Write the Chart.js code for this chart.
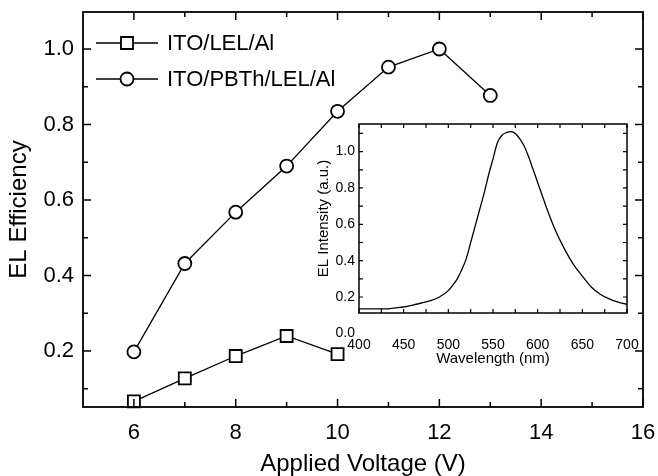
<!DOCTYPE html>
<html>
<head>
<meta charset="utf-8">
<script src="https://cdn.jsdelivr.net/npm/chart.js@4.4.0/dist/chart.umd.min.js"></script>
<style>
  html, body { margin: 0; padding: 0; background: #fff; }
  #wrap  { position: relative; width: 658px; height: 476px; }
  #main  { position: absolute; left: 0; top: 0; }
  #inset { position: absolute; left: 300px; top: 110px; }
</style>
</head>
<body>
<div id="wrap">
  <canvas id="main" width="658" height="476"></canvas>
  <canvas id="inset" width="350" height="260"></canvas>
</div>
<script>
// main plot: EL efficiency vs applied voltage
const voltage   = [6, 7, 8, 9, 10, 11, 12, 13];
const effLel    = [0.067, 0.128, 0.187, 0.240, 0.192];
const effPbth   = [0.198, 0.432, 0.568, 0.690, 0.835, 0.952, 1.000, 0.877];
const seriesNames = ['ITO/LEL/Al', 'ITO/PBTh/LEL/Al'];

const xMajor = [6, 8, 10, 12, 14, 16];
const xMinor = [7, 9, 11, 13, 15];
const yMajor = [0.2, 0.4, 0.6, 0.8, 1.0];
const yMinor = [0.1, 0.3, 0.5, 0.7, 0.9];

// inset: EL spectrum
const wavelength = [400, 410, 420, 430, 440, 450, 460, 470, 480, 490,
                    500, 505, 510, 515, 520, 525, 530, 535, 540, 545,
                    550, 555, 560, 565, 570, 575, 580, 585, 590, 595,
                    600, 605, 610, 615, 620, 630, 640, 650, 660, 670,
                    680, 690, 700];
const intensity  = [0.135, 0.135, 0.135, 0.135, 0.140, 0.145, 0.155, 0.167, 0.180, 0.200,
                    0.235, 0.265, 0.300, 0.350, 0.410, 0.500, 0.590, 0.680, 0.770, 0.870,
                    0.960, 1.050, 1.090, 1.105, 1.110, 1.100, 1.070, 1.030, 0.970, 0.900,
                    0.830, 0.760, 0.690, 0.625, 0.565, 0.465, 0.380, 0.315, 0.255, 0.215,
                    0.190, 0.172, 0.160];

const wlMajor = [400, 450, 500, 550, 600, 650, 700];
const wlMinor = [425, 475, 525, 575, 625, 675];
const inMajor = [0.0, 0.2, 0.4, 0.6, 0.8, 1.0];
const inMinor = [0.1, 0.3, 0.5, 0.7, 0.9, 1.1];

const FONT = "'Liberation Sans', Arial, sans-serif";

function noPad(s) {
  s.paddingLeft = 0; s.paddingRight = 0; s.paddingTop = 0; s.paddingBottom = 0;
}

function framePlugin(cfg) {
  return {
    id: 'frame',
    afterDraw(chart) {
      const { ctx, chartArea: a, scales: { x, y } } = chart;
      ctx.save();
      ctx.strokeStyle = '#000';
      ctx.lineWidth = cfg.lw;
      ctx.strokeRect(a.left, a.top, a.right - a.left, a.bottom - a.top);
      ctx.lineWidth = cfg.tw;
      ctx.beginPath();
      const xt = (vals, len) => vals.forEach(v => {
        const p = x.getPixelForValue(v);
        if (p < a.left - 0.5 || p > a.right + 0.5) return;
        ctx.moveTo(p, a.bottom); ctx.lineTo(p, a.bottom - len);
        ctx.moveTo(p, a.top);    ctx.lineTo(p, a.top + len);
      });
      const yt = (vals, len) => vals.forEach(v => {
        const p = y.getPixelForValue(v);
        if (p < a.top - 0.5 || p > a.bottom + 0.5) return;
        ctx.moveTo(a.left, p);  ctx.lineTo(a.left + len, p);
        ctx.moveTo(a.right, p); ctx.lineTo(a.right - len, p);
      });
      xt(cfg.xMajor, cfg.major); xt(cfg.xMinor, cfg.minor);
      yt(cfg.yMajor, cfg.major); yt(cfg.yMinor, cfg.minor);
      ctx.stroke();
      ctx.restore();
    }
  };
}

const legendPlugin = {
  id: 'innerLegend',
  afterDatasetsDraw(chart) {
    const { ctx } = chart;
    const rows = [{ y: 43, style: 'rect', r: 8.5 }, { y: 79, style: 'circle', r: 6.5 }];
    ctx.save();
    rows.forEach((row, i) => {
      ctx.strokeStyle = '#000';
      ctx.lineWidth = 1.3;
      ctx.beginPath();
      ctx.moveTo(96, row.y); ctx.lineTo(158, row.y);
      ctx.stroke();
      ctx.fillStyle = '#fff';
      ctx.lineWidth = 1.8;
      ctx.beginPath();
      if (row.style === 'rect') {
        const h = row.r * Math.SQRT1_2;
        ctx.rect(127 - h, row.y - h, 2 * h, 2 * h);
      } else {
        ctx.arc(127, row.y, row.r, 0, Math.PI * 2);
      }
      ctx.fill(); ctx.stroke();
      ctx.fillStyle = '#000';
      ctx.font = '22px ' + FONT;
      ctx.textBaseline = 'middle';
      ctx.fillText(seriesNames[i], 167, row.y + 1);
    });
    ctx.restore();
  }
};

new Chart(document.getElementById('main'), {
  type: 'line',
  data: {
    datasets: [
      {
        label: seriesNames[0],
        data: effLel.map((v, i) => ({ x: voltage[i], y: v })),
        borderColor: '#000', borderWidth: 1.3,
        pointStyle: 'rect', pointRadius: 8.5,
        pointBackgroundColor: '#fff', pointBorderColor: '#000', pointBorderWidth: 1.8,
        tension: 0, clip: false,
      },
      {
        label: seriesNames[1],
        data: effPbth.map((v, i) => ({ x: voltage[i], y: v })),
        borderColor: '#000', borderWidth: 1.3,
        pointStyle: 'circle', pointRadius: 6.5,
        pointBackgroundColor: '#fff', pointBorderColor: '#000', pointBorderWidth: 1.8,
        tension: 0, clip: false,
      },
    ],
  },
  options: {
    responsive: false,
    animation: false,
    layout: { padding: { left: 0, right: 15, top: 12, bottom: 0 } },
    plugins: { legend: { display: false }, tooltip: { enabled: false } },
    scales: {
      x: {
        type: 'linear', min: 5, max: 16,
        grid: { display: false, drawTicks: false },
        border: { display: false },
        afterBuildTicks: s => { s.ticks = xMajor.map(v => ({ value: v })); },
        afterFit: s => { s.height = 69; noPad(s); },
        ticks: {
          color: '#000', font: { size: 22, family: FONT }, padding: 13,
          maxRotation: 0, autoSkip: false, callback: v => String(v),
        },
        title: {
          display: true, text: 'Applied Voltage (V)', color: '#000',
          font: { size: 24, family: FONT, lineHeight: 1 }, padding: { top: 0, bottom: 0 },
        },
      },
      y: {
        type: 'linear', min: 0.052, max: 1.098,
        grid: { display: false, drawTicks: false },
        border: { display: false },
        afterBuildTicks: s => { s.ticks = yMajor.map(v => ({ value: v })); },
        afterFit: s => { s.width = 83; noPad(s); },
        ticks: {
          color: '#000', font: { size: 22, family: FONT }, padding: 9,
          autoSkip: false, callback: v => v.toFixed(1),
        },
        title: {
          display: true, text: 'EL Efficiency', color: '#000',
          font: { size: 24, family: FONT, lineHeight: 1 }, padding: { top: 7, bottom: 0 },
        },
      },
    },
  },
  plugins: [
    framePlugin({ lw: 1.8, tw: 1.5, major: 8, minor: 5, xMajor, xMinor, yMajor, yMinor }),
    legendPlugin,
  ],
});

new Chart(document.getElementById('inset'), {
  type: 'line',
  data: {
    datasets: [{
      data: intensity.map((v, i) => ({ x: wavelength[i], y: v })),
      borderColor: '#000', borderWidth: 1.3,
      pointRadius: 0, cubicInterpolationMode: 'monotone',
    }],
  },
  options: {
    responsive: false,
    animation: false,
    layout: { padding: { left: 0, right: 23, top: 14, bottom: 0 } },
    plugins: { legend: { display: false }, tooltip: { enabled: false } },
    scales: {
      x: {
        type: 'linear', min: 400, max: 700,
        grid: { display: false, drawTicks: false },
        border: { display: false },
        afterBuildTicks: s => { s.ticks = wlMajor.map(v => ({ value: v })); },
        afterFit: s => { s.height = 57; noPad(s); },
        ticks: {
          color: '#000', font: { size: 14, family: FONT }, padding: 24,
          maxRotation: 0, autoSkip: false, callback: v => String(v),
        },
        title: {
          display: true, text: 'Wavelength (nm)', color: '#000',
          font: { size: 15, family: FONT, lineHeight: 1 }, padding: { top: 0, bottom: 4 },
        },
      },
      y: {
        type: 'linear', min: 0.112, max: 1.152,
        grid: { display: false, drawTicks: false },
        border: { display: false },
        afterBuildTicks: s => { s.ticks = inMajor.map(v => ({ value: v })); },
        afterFit: s => { s.width = 59; noPad(s); },
        ticks: {
          color: '#000', font: { size: 14, family: FONT }, padding: 4,
          autoSkip: false, callback: v => v.toFixed(1),
        },
        title: {
          display: true, text: 'EL Intensity (a.u.)', color: '#000',
          font: { size: 15, family: FONT, lineHeight: 1 }, padding: { top: 16, bottom: 0 },
        },
      },
    },
  },
  plugins: [
    framePlugin({ lw: 1.5, tw: 1.2, major: 4, minor: 4,
                  xMajor: wlMajor, xMinor: wlMinor, yMajor: inMajor, yMinor: inMinor }),
  ],
});
</script>
</body>
</html>
